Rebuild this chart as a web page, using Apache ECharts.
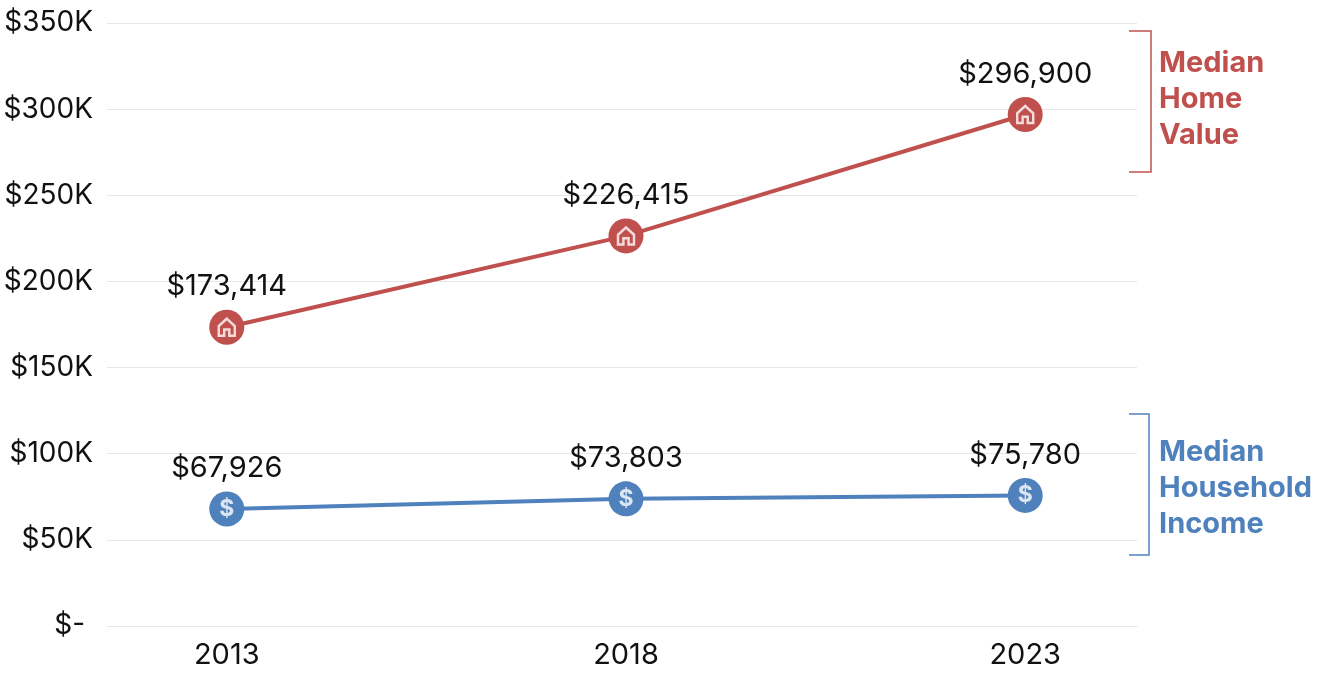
<!DOCTYPE html>
<html>
<head>
<meta charset="utf-8">
<script src="https://cdn.jsdelivr.net/npm/echarts@6/dist/echarts.min.js"></script>
<style>
  html, body { margin: 0; padding: 0; background: #fff; }
  #main { width: 1320px; height: 676px; }
</style>
</head>
<body>
<div id="main"></div>
<script>
var years = [2013, 2018, 2023];
var homeValue = [173414, 226415, 296900];
var householdIncome = [67926, 73803, 75780];
var yTickLabels = ['$- ', '$50K', '$100K', '$150K', '$200K', '$250K', '$300K', '$350K'];

var RED = '#C0504D';
var BLUE = '#4F81BD';
var FONT = 'Inter';

var housePath = 'path://M0,5 L5,0.5 L10,5 L10,11 L6.6,11 L6.6,7.2 L3.4,7.2 L3.4,11 L0,11 Z';

function pairs(vals) {
  return vals.map((v, i) => [years[i], v]);
}

function money(v) {
  return '$' + v.toLocaleString('en-US');
}

function valueLine(name, vals, color) {
  return {
    name: name,
    type: 'line',
    data: pairs(vals),
    symbol: 'circle',
    symbolSize: 35,
    showSymbol: true,
    lineStyle: { color: color, width: 4 },
    itemStyle: { color: color },
    label: {
      show: true,
      position: 'top',
      distance: 7,
      color: '#111',
      fontFamily: FONT,
      fontSize: 29,
      lineHeight: 32,
      formatter: p => money(p.value[1])
    },
    emphasis: { disabled: true },
    z: 2
  };
}

var chart = echarts.init(document.getElementById('main'));
var option = {
  animation: false,
  grid: { left: 107, right: 183, top: 23, bottom: 50 },
  xAxis: {
    type: 'value',
    min: 2011.5,
    max: 2024.4,
    splitLine: { show: false },
    axisTick: { show: false },
    axisLine: { show: true, lineStyle: { color: '#e6e6e6', width: 1 } },
    axisLabel: {
      customValues: years,
      color: '#111',
      fontFamily: FONT,
      fontSize: 29,
      margin: 15,
      formatter: v => String(v)
    }
  },
  yAxis: {
    type: 'value',
    min: 0,
    max: 350000,
    interval: 50000,
    axisLine: { show: false },
    axisTick: { show: false },
    splitLine: { lineStyle: { color: '#e6e6e6', width: 1 } },
    axisLabel: {
      color: '#111',
      fontFamily: FONT,
      fontSize: 28,
      margin: 14,
      formatter: (v, i) => yTickLabels[i]
    }
  },
  series: [
    valueLine('Median Home Value', homeValue, RED),
    valueLine('Median Household Income', householdIncome, BLUE),
    {
      // house icons on the home value markers
      type: 'scatter',
      data: pairs(homeValue),
      symbol: housePath,
      symbolSize: [16, 17],
      itemStyle: { color: RED, borderColor: '#fff', borderWidth: 2.5 },
      emphasis: { disabled: true },
      z: 5
    },
    {
      // dollar icons on the income markers
      type: 'scatter',
      data: pairs(householdIncome),
      symbolSize: 1,
      itemStyle: { color: 'rgba(0,0,0,0)' },
      label: {
        show: true,
        position: 'inside',
        formatter: '$',
        color: '#fff',
        fontFamily: FONT,
        fontWeight: 'bold',
        fontSize: 23
      },
      emphasis: { disabled: true },
      z: 5
    }
  ],
  graphic: [
    {
      type: 'polyline',
      shape: { points: [[1129, 31], [1151, 31], [1151, 172], [1129, 172]] },
      style: { stroke: RED, lineWidth: 1.5, fill: null }
    },
    {
      type: 'text',
      x: 1159, y: 99,
      style: {
        text: 'Median\nHome\nValue',
        fill: RED,
        font: 'bold 29px Inter',
        lineHeight: 36,
        verticalAlign: 'middle'
      }
    },
    {
      type: 'polyline',
      shape: { points: [[1129, 414], [1149, 414], [1149, 555], [1129, 555]] },
      style: { stroke: BLUE, lineWidth: 1.5, fill: null }
    },
    {
      type: 'text',
      x: 1159, y: 488,
      style: {
        text: 'Median\nHousehold\nIncome',
        fill: BLUE,
        font: 'bold 29px Inter',
        lineHeight: 36,
        verticalAlign: 'middle'
      }
    }
  ]
};
chart.setOption(option);
</script>
</body>
</html>
